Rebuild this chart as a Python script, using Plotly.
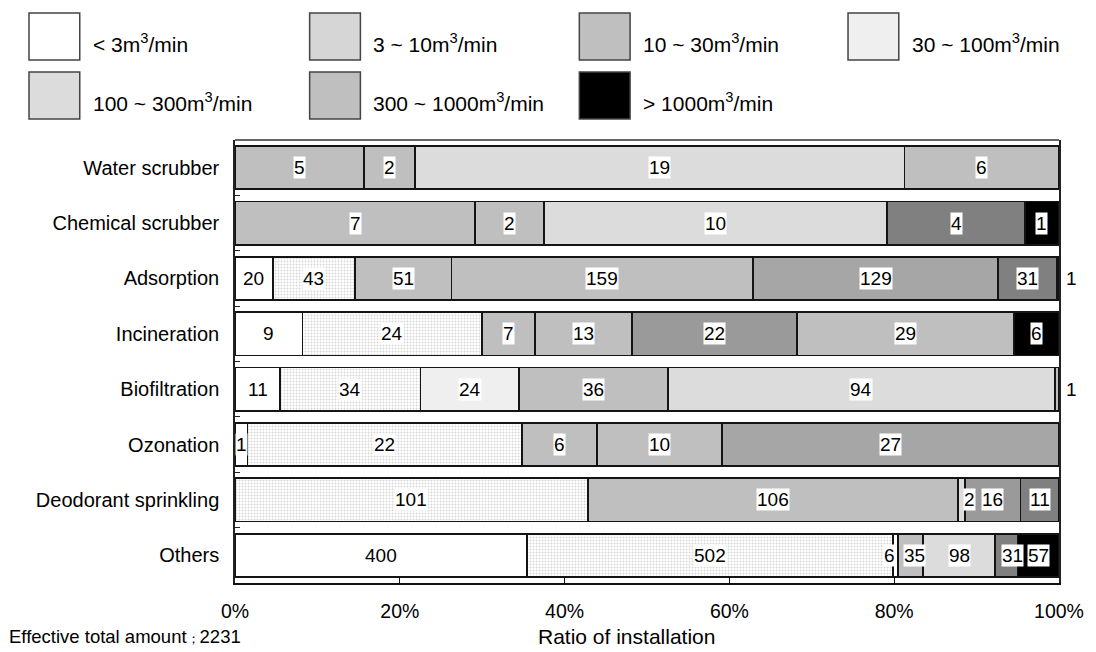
import plotly.graph_objects as go

# ---------------- data ----------------
categories = ["Water scrubber", "Chemical scrubber", "Adsorption", "Incineration",
              "Biofiltration", "Ozonation", "Deodorant sprinkling", "Others"]
series_names = ["< 3m<sup>3</sup>/min", "3 ~ 10m<sup>3</sup>/min", "10 ~ 30m<sup>3</sup>/min",
                "30 ~ 100m<sup>3</sup>/min", "100 ~ 300m<sup>3</sup>/min",
                "300 ~ 1000m<sup>3</sup>/min", "> 1000m<sup>3</sup>/min"]
lt3       = [None, None, 20, 9, 11, 1, None, 400]
s3_10     = [None, None, 43, 24, 34, 22, 101, 502]
s10_30    = [5, 7, 51, 7, 24, 6, 106, 6]
s30_100   = [2, 2, 159, 13, 36, 10, 2, 35]
s100_300  = [19, 10, 129, 22, 94, 27, 16, 98]
s300_1000 = [6, 4, 31, 29, None, None, 11, 31]
gt1000    = [None, 1, 1, 6, 1, None, None, 57]
series_values = [lt3, s3_10, s10_30, s30_100, s100_300, s300_1000, gt1000]
total_label = "Effective total amount<span style='font-size:13px'>；</span>2231"
x_title = "Ratio of installation"
tick_vals = [0, 20, 40, 60, 80, 100]

# ---------------- styles ----------------
W, Wd, G, L, LL, M, D, DD, K = "#ffffff", "#d6d6d6", "#bfbfbf", "#dcdcdc", "#efefef", "#a6a6a6", "#9a9a9a", "#808080", "#000000"
seg_colors = [
    [W] * 8,
    [Wd] * 8,
    [G, G, G, G, LL, G, G, W],
    [G, G, G, G, G, G, L, G],
    [L, L, M, D, L, M, D, L],
    [G, DD, DD, G, G, G, DD, DD],
    [K, K, K, K, G, K, K, K],
]
legend_colors = [W, Wd, G, LL, L, G, K]
# label tweaks: (category index, series index) -> xshift / outside
label_shift = {(6, 3): 8, (7, 2): -6, (7, 3): 4, (7, 5): 6}
label_outside = {(2, 6), (4, 6)}

FONT = "Arial, Liberation Sans, sans-serif"
OFF = 8  # default page body margin
L_PX, R_PX, T_PX, B_PX = 235, 1063, 140, 583
FW, FH = 1096, 652

def px_x(p):
    return (p - L_PX) / (R_PX - L_PX)

def px_y(p):
    return (B_PX - p) / (B_PX - T_PX)

fig = go.Figure()
for j, (name, vals) in enumerate(zip(series_names, series_values)):
    marker = dict(color=seg_colors[j], line=dict(color="#141414", width=1.8))
    if j == 1:
        marker["pattern"] = dict(shape=".", fgcolor="#8e8e8e", bgcolor="#dedede",
                                 size=3, solidity=0.3, fillmode="replace")
    fig.add_trace(go.Bar(y=categories, x=vals, name=name, orientation="h",
                         marker=marker, showlegend=False, hoverinfo="skip"))

annotations = []
for i, cat in enumerate(categories):
    total = sum(v[i] or 0 for v in series_values)
    cum = 0
    for j, vals in enumerate(series_values):
        v = vals[i]
        if not v:
            continue
        mid = (cum + v / 2) / total * 100
        cum += v
        if (i, j) in label_outside:
            annotations.append(dict(x=100, y=cat, xref="x", yref="y", text=str(v),
                                    showarrow=False, xanchor="left", xshift=5,
                                    font=dict(family=FONT, size=19, color="black")))
        else:
            annotations.append(dict(x=mid, y=cat, xref="x", yref="y", text=str(v),
                                    showarrow=False, bgcolor="white", borderpad=0,
                                    xshift=label_shift.get((i, j), 0),
                                    font=dict(family=FONT, size=19, color="black")))

# legend built from shapes + annotations
shapes = []
leg_pos = [(28, 13), (310, 13), (581, 13), (851, 13), (28, 72), (310, 72), (581, 72)]
for (x0, y0), name, col in zip(leg_pos, series_names, legend_colors):
    shapes.append(dict(type="rect", xref="paper", yref="paper",
                       x0=px_x(x0), x1=px_x(x0 + 51), y0=px_y(y0), y1=px_y(y0 + 47),
                       fillcolor=col, line=dict(color="#444", width=1.5)))
    annotations.append(dict(x=px_x(x0 + 62), y=px_y(y0 + 30), xref="paper", yref="paper",
                            text=name, showarrow=False, xanchor="left", yanchor="middle",
                            font=dict(family=FONT, size=21, color="black")))
# top frame line
shapes.append(dict(type="line", xref="paper", yref="paper", x0=0, x1=1, y0=1, y1=1,
                   line=dict(color="#333", width=1.5)))

annotations.append(dict(x=px_x(6), y=px_y(636), xref="paper", yref="paper", text=total_label,
                        showarrow=False, xanchor="left", yanchor="middle",
                        font=dict(family=FONT, size=18.5, color="black")))
annotations.append(dict(x=px_x(628), y=px_y(636), xref="paper", yref="paper", text=x_title,
                        showarrow=False, xanchor="center", yanchor="middle",
                        font=dict(family=FONT, size=21, color="black")))

fig.update_layout(
    barmode="stack", barnorm="percent", bargap=0.22,
    width=FW - OFF, height=FH - OFF,
    margin=dict(l=L_PX - OFF, r=FW - R_PX, t=T_PX - OFF, b=FH - B_PX),
    plot_bgcolor="white", paper_bgcolor="white",
    font=dict(family=FONT, size=19, color="black"),
    shapes=shapes, annotations=annotations,
)
fig.update_xaxes(range=[0, 100], tickvals=tick_vals, ticktext=[f"{t}%" for t in tick_vals],
                 showgrid=False, zeroline=False, showline=True, linecolor="#111", linewidth=2,
                 ticks="inside", ticklen=5, tickcolor="#111", ticklabelstandoff=10,
                 tickfont=dict(family=FONT, size=19.5, color="black"))
fig.update_yaxes(autorange="reversed", showgrid=False, zeroline=False, showline=True,
                 mirror=True, linecolor="#222", linewidth=1.5,
                 ticks="inside", ticklen=5, tickson="boundaries", tickcolor="#222",
                 ticklabelstandoff=10, tickfont=dict(family=FONT, size=20, color="black"))

fig.write_html("out.html")
